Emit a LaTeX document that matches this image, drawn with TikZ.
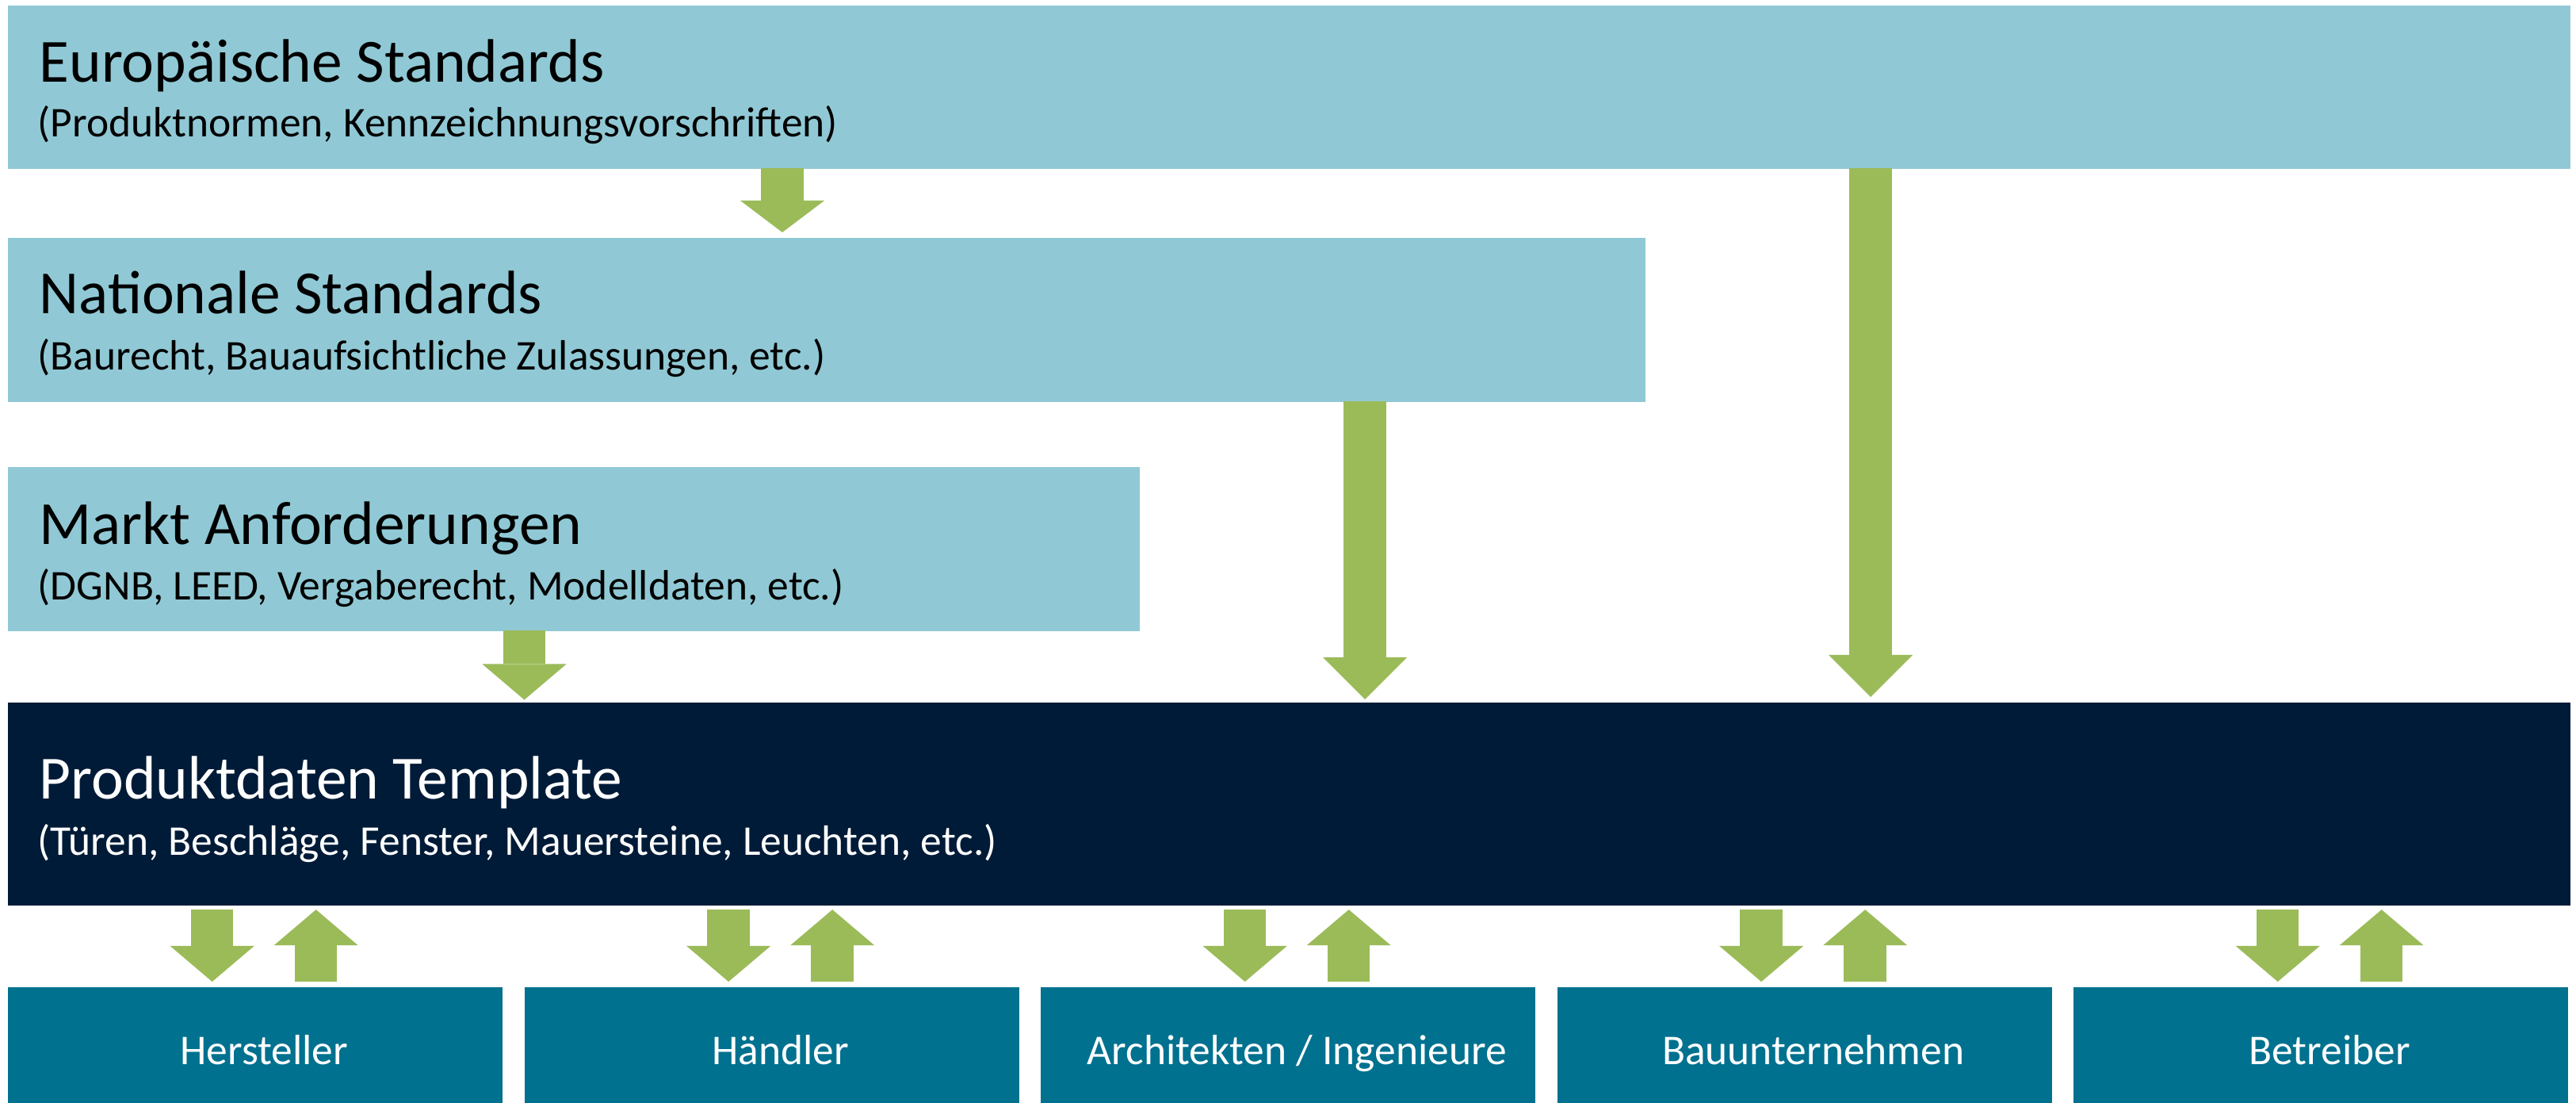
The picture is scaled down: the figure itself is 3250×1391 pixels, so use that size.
\documentclass[tikz,border=0pt]{standalone}
\usepackage{fontspec}
\setmainfont{Carlito}
\usetikzlibrary{arrows.meta,calc}
\definecolor{lblue}{RGB}{144,201,213}
\definecolor{navy}{RGB}{0,27,55}
\definecolor{teal}{RGB}{0,113,143}
\definecolor{agreen}{RGB}{155,187,89}
\begin{document}
\begin{tikzpicture}[x=0.01cm,y=-0.01cm,
  box/.style={rectangle, inner sep=0pt, outer sep=0pt, anchor=north west, draw=none},
  lbox/.style={box, fill=lblue},
  nbox/.style={box, fill=navy},
  tbox/.style={box, fill=teal, minimum width=6.24cm, minimum height=1.46cm},
  ttl/.style={anchor=base west, inner sep=0pt, font=\fontsize{22}{26}\selectfont},
  subt/.style={anchor=base west, inner sep=0pt, font=\fontsize{15.2}{18}\selectfont},
  btxt/.style={anchor=base, inner sep=0pt, text=white, font=\fontsize{15.2}{18}\selectfont},
  barrow/.style={draw=agreen, line width=0.535cm, line cap=butt,
    -{Triangle[width=1.06cm,length=#1,line width=0pt,fill=agreen]}},
]
\useasboundingbox (0,0) rectangle (3250,1391);
\fill[white] (0,0) rectangle (3250,1391);

% boxes
\node[lbox, minimum width=32.31cm, minimum height=2.06cm] (euro) at (10,7) {};
\node[lbox, minimum width=20.65cm, minimum height=2.07cm] (nat) at (10,300) {};
\node[lbox, minimum width=14.27cm, minimum height=2.07cm] (markt) at (10,589) {};
\node[nbox, minimum width=32.31cm, minimum height=2.56cm] (prod) at (10,886) {};
\node[tbox] (b1) at (10,1245) {};
\node[tbox] (b2) at (661.5,1245) {};
\node[tbox] (b3) at (1313,1245) {};
\node[tbox] (b4) at (1964.5,1245) {};
\node[tbox] (b5) at (2616,1245) {};

% texts
\node[ttl] (eurot) at (49,103.5) {Europäische Standards};
\node[subt] (euros) at (47,173) {(Produktnormen, Kennzeichnungsvorschriften)};
\node[ttl] (natt) at (49,396) {Nationale Standards};
\node[subt] (nats) at (47,466) {(Baurecht, Bauaufsichtliche Zulassungen, etc.)};
\node[ttl] (marktt) at (49,686) {Markt Anforderungen};
\node[subt] (markts) at (47,756) {(DGNB, LEED, Vergaberecht, Modelldaten, etc.)};
\node[ttl, text=white] (prodt) at (49,1007) {Produktdaten Template};
\node[subt, text=white] (prods) at (47,1078) {(Türen, Beschläge, Fenster, Mauersteine, Leuchten, etc.)};

\node[btxt] (b1t) at ($(b1.north)+(11,97)$) {Hersteller};
\node[btxt] (b2t) at ($(b2.north)+(11,97)$) {Händler};
\node[btxt] (b3t) at ($(b3.north)+(11,97)$) {Architekten / Ingenieure};
\node[btxt] (b4t) at ($(b4.north)+(11,97)$) {Bauunternehmen};
\node[btxt] (b5t) at ($(b5.north)+(11,97)$) {Betreiber};

% vertical arrows from standards
\coordinate (xa) at (987,0);
\coordinate (xb) at (661.5,0);
\coordinate (xc) at (1722,0);
\coordinate (xd) at (2360,0);
\draw[barrow=0.40cm] ($(euro.south -| xa)+(0,-1)$) -- ($(nat.north -| xa)+(0,-7)$);
\draw[barrow=0.45cm] ($(markt.south -| xb)+(0,-1)$) -- ($(prod.north -| xb)+(0,-3.5)$);
\draw[barrow=0.53cm] ($(nat.south -| xc)+(0,-1)$) -- ($(prod.north -| xc)+(0,-4)$);
\draw[barrow=0.53cm] ($(euro.south -| xd)+(0,-1)$) -- ($(prod.north -| xd)+(0,-7)$);

% bottom arrow pairs
\foreach \b in {b1,b2,b3,b4,b5} {
  \coordinate (\b d) at ($(\b.north)+(-54.5,0)$);
  \coordinate (\b u) at ($(\b.north)+(76.5,0)$);
  \draw[barrow=0.45cm] ($(prod.south -| \b d)+(0,5)$) -- ($(\b.north -| \b d)+(0,-7)$);
  \draw[barrow=0.45cm] ($(\b.north -| \b u)+(0,-7)$) -- ($(prod.south -| \b u)+(0,5)$);
}
\end{tikzpicture}
\end{document}
